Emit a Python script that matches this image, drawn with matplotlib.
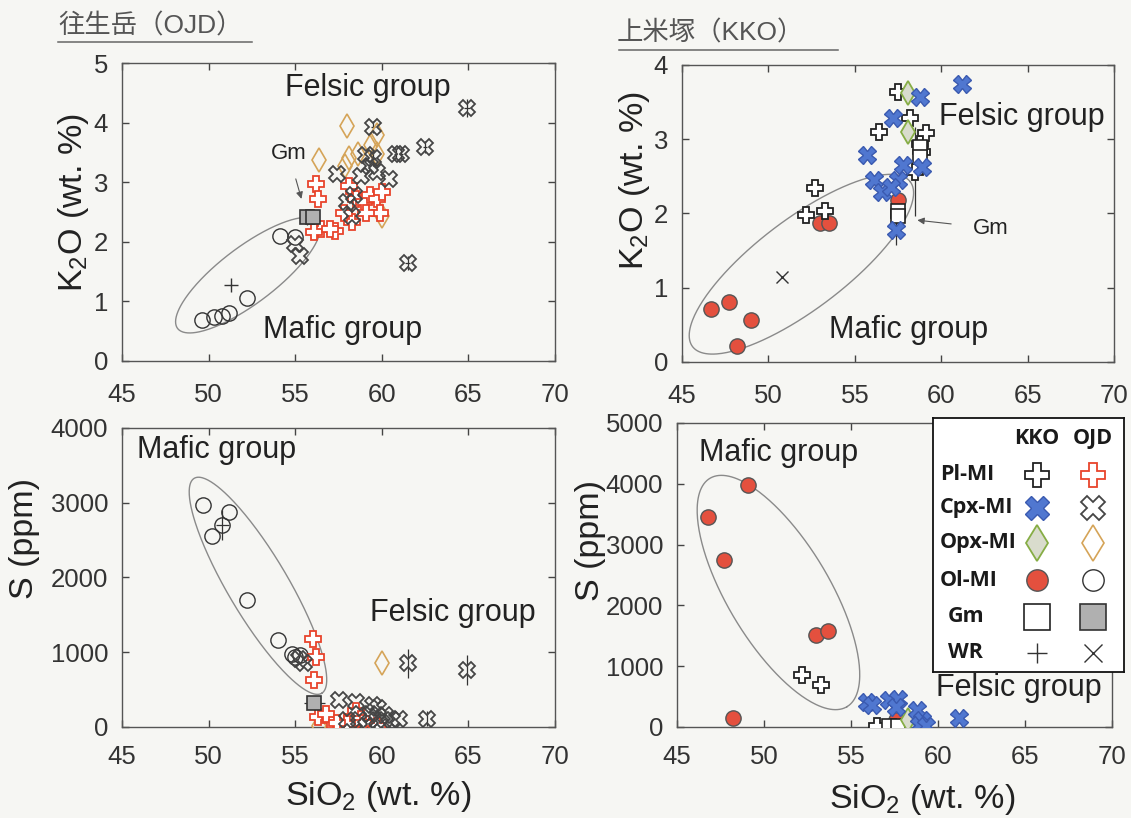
import numpy as np
import matplotlib
matplotlib.use('Agg')
import matplotlib.pyplot as plt
from matplotlib.lines import Line2D

plt.rcParams['font.family'] = ['Liberation Sans', 'DejaVu Sans']
plt.rcParams['mathtext.fontset'] = 'custom'
plt.rcParams['mathtext.rm'] = 'Liberation Sans'
plt.rcParams['mathtext.it'] = 'Liberation Sans:italic'
plt.rcParams['mathtext.bf'] = 'Liberation Sans:bold'

# ---------------- OJD : K2O vs SiO2 ----------------
ojd_k_ol_x = [49.6, 50.3, 50.8, 51.2, 52.2, 54.1, 55.0]
ojd_k_ol_y = [0.69, 0.74, 0.76, 0.80, 1.06, 2.10, 2.08]
ojd_k_wr_x = [51.3]
ojd_k_wr_y = [1.28]
ojd_k_cpx_x = [64.9, 62.5, 61.1, 60.8, 59.5, 59.5, 59.3, 59.7, 60.4, 57.4, 58.0, 58.3, 58.4, 61.5, 55.0, 55.3, 58.8, 59.1]
ojd_k_cpx_y = [4.24, 3.59, 3.48, 3.48, 3.93, 3.40, 3.28, 3.17, 3.06, 3.14, 2.66, 2.44, 2.78, 1.65, 1.96, 1.76, 3.11, 3.45]
ojd_k_cpx_err = [0.15, 0.10, 0.08, 0.08, 0.10, 0.12, 0, 0, 0, 0, 0, 0, 0, 0.12, 0, 0, 0, 0]
ojd_k_pl_x = [56.2, 56.3, 56.5, 57.3, 56.1, 58.1, 58.5, 59.0, 59.3, 59.7, 59.9, 58.3, 60.0, 59.1, 57.8, 57.0]
ojd_k_pl_y = [2.97, 2.72, 2.21, 2.18, 2.16, 2.94, 2.72, 2.66, 2.78, 2.72, 2.49, 2.33, 2.83, 2.49, 2.49, 2.21]
ojd_k_opx_x = [58.0, 56.4, 59.7, 59.4, 58.1, 58.6, 57.9, 59.7, 60.0]
ojd_k_opx_y = [3.95, 3.37, 3.79, 3.62, 3.40, 3.48, 3.28, 3.48, 2.44]
ojd_k_gm_x = [55.7, 56.0]
ojd_k_gm_y = [2.41, 2.41]

# ---------------- KKO : K2O vs SiO2 ----------------
kko_k_ol_x = [46.7, 47.7, 49.0, 48.2, 53.0, 53.5, 57.5]
kko_k_ol_y = [0.72, 0.81, 0.56, 0.22, 1.87, 1.87, 2.18]
kko_k_pl_x = [52.7, 52.2, 53.3, 56.4, 57.5, 58.2, 58.8, 59.1, 58.9, 58.5]
kko_k_pl_y = [2.34, 1.98, 2.04, 3.10, 3.64, 3.28, 2.94, 3.08, 2.83, 2.56]
kko_k_pl_err = [0, 0, 0, 0, 0, 0, 0, 0, 0, 0.6]
kko_k_cpx_x = [61.2, 58.8, 57.2, 55.7, 56.1, 56.6, 57.5, 57.8, 58.9, 57.4, 57.1]
kko_k_cpx_y = [3.75, 3.57, 3.28, 2.79, 2.45, 2.29, 2.45, 2.65, 2.63, 1.78, 2.36]
kko_k_cpx_err = [0, 0, 0, 0, 0, 0, 0, 0, 0, 0.2, 0]
kko_k_opx_x = [58.1, 58.1]
kko_k_opx_y = [3.62, 3.10]
kko_k_gm_x = [57.5, 57.5, 58.8, 58.8]
kko_k_gm_y = [2.04, 1.96, 2.90, 2.76]
kko_k_wr_x = [50.8]
kko_k_wr_y = [1.15]

# ---------------- OJD : S vs SiO2 ----------------
ojd_s_ol_x = [49.7, 50.2, 51.2, 50.8, 52.2, 54.0, 55.0, 54.8, 55.3]
ojd_s_ol_y = [2970, 2560, 2880, 2700, 1700, 1160, 940, 980, 960]
ojd_s_ol_err = [0, 0, 0, 200, 0, 0, 0, 0, 0]
ojd_s_pl_x = [56.0, 56.2, 56.1, 56.3, 57.0, 56.8, 58.3, 58.5, 59.7, 58.0, 58.8, 57.4, 58.9]
ojd_s_pl_y = [1180, 940, 630, 135, 90, 180, 135, 220, 20, 45, 110, 60, 60]
ojd_s_cpx_x = [61.5, 64.9, 62.6, 57.5, 58.5, 59.5, 59.3, 59.7, 60.6, 61.0, 60.2, 58.0, 59.1, 55.5, 55.2, 59.8, 60.0, 58.7]
ojd_s_cpx_y = [850, 760, 110, 360, 335, 290, 180, 90, 90, 110, 155, 90, 20, 850, 915, 250, 60, 100]
ojd_s_cpx_err = [200, 200, 100, 0, 0, 0, 0, 0, 0, 0, 0, 0, 0, 0, 0, 0, 0, 0]
ojd_s_opx_x = [60.0, 56.4]
ojd_s_opx_y = [850, 10]
ojd_s_gm_x = [56.1]
ojd_s_gm_y = [315]

# ---------------- KKO : S vs SiO2 ----------------
kko_s_ol_x = [46.8, 49.1, 47.7, 53.0, 53.7, 48.2, 57.6]
kko_s_ol_y = [3460, 3980, 2750, 1510, 1580, 140, 110]
kko_s_pl_x = [52.2, 53.3, 56.5]
kko_s_pl_y = [850, 690, 10]
kko_s_gm_x = [57.2, 57.7]
kko_s_gm_y = [15, 15]
kko_s_cpx_x = [55.9, 56.2, 57.2, 57.7, 57.6, 58.8, 59.1, 58.9, 59.3, 61.2]
kko_s_cpx_y = [410, 360, 440, 465, 330, 275, 110, 30, 20, 140]
kko_s_opx_x = [58.3]
kko_s_opx_y = [110]

# group ellipses: centre, semi-axis vector a, semi-axis vector b (data units)
ell_ojd_k = ((52.27, 1.44), (4.06, 0.894), (0.98, -0.375))
ell_kko_k = ((51.91, 1.317), (6.30, 1.11), (1.57, -0.483))
ell_ojd_s = ((52.85, 1889), (3.68, -1438), (1.49, 205))
ell_kko_s = ((50.83, 2212), (3.94, -1878), (2.51, 431))

legend_rows = ['Pl-MI', 'Cpx-MI', 'Opx-MI', 'Ol-MI', 'Gm', 'WR']

ST = {
    'kko_pl': dict(marker='P', ms=12, mfc='white', mec='#222222', mew=1.3),
    'ojd_pl': dict(marker='P', ms=12, mfc='white', mec='#e8442c', mew=1.3),
    'kko_cpx': dict(marker='X', ms=12.5, mfc='#5077d0', mec='#3a5ab0', mew=1),
    'ojd_cpx': dict(marker='X', ms=12, mfc='none', mec='#454545', mew=1.3),
    'kko_opx': dict(marker='d', ms=12.5, mfc='#d9dccd', mec='#86ad45', mew=1.3),
    'ojd_opx': dict(marker='d', ms=12.5, mfc='none', mec='#d5a458', mew=1.2),
    'kko_ol': dict(marker='o', ms=11, mfc='#e4503e', mec='#555555', mew=1),
    'ojd_ol': dict(marker='o', ms=11, mfc='none', mec='#333333', mew=1),
    'kko_gm': dict(marker='s', ms=10, mfc='white', mec='#222222', mew=1.2),
    'ojd_gm': dict(marker='s', ms=10, mfc='#b0b0b0', mec='#333333', mew=1.2),
    'wr_plus': dict(marker='+', ms=10, mec='#333333', mew=1),
    'wr_x': dict(marker='x', ms=9, mec='#333333', mew=1),
}
legend_styles = [('kko_pl', 'ojd_pl'), ('kko_cpx', 'ojd_cpx'), ('kko_opx', 'ojd_opx'),
                 ('kko_ol', 'ojd_ol'), ('kko_gm', 'ojd_gm'), ('wr_plus', 'wr_x')]

TXT = '#222222'


def pts(ax, x, y, key, xerr=None, yerr=None):
    if xerr is not None or yerr is not None:
        ax.errorbar(x, y, xerr=xerr, yerr=yerr, fmt='none', ecolor='#333333',
                    elinewidth=0.9, zorder=2)
    ax.plot(x, y, ls='none', zorder=3, **ST[key])


def ellipse(ax, e):
    (cx, cy), (ax_, ay), (bx, by) = e
    t = np.linspace(0, 2 * np.pi, 300)
    ax.plot(cx + ax_ * np.cos(t) + bx * np.sin(t), cy + ay * np.cos(t) + by * np.sin(t),
            color='#8a8a8a', lw=1, zorder=1)


def setup(ax, ymax, ystep, xpad):
    ax.set_xlim(45, 70)
    ax.set_ylim(0, ymax)
    ax.set_xticks(range(45, 71, 5))
    ax.set_yticks(np.arange(0, ymax + ystep / 2, ystep))
    ax.tick_params(direction='in', top=True, right=True, length=5, width=1,
                   color='#444444', labelsize=18.5, labelcolor='#333333')
    ax.tick_params(axis='x', pad=xpad)
    ax.tick_params(axis='y', pad=10)
    for s in ax.spines.values():
        s.set_color('#555555')
        s.set_linewidth(1)
    ax.set_facecolor('none')


fig = plt.figure(figsize=(11.31, 8.18), dpi=100, facecolor='#f6f6f3')

ax1 = fig.add_axes([0.10787, 0.55868, 0.38285, 0.36430])
ax2 = fig.add_axes([0.60301, 0.55746, 0.38196, 0.36308])
ax3 = fig.add_axes([0.10787, 0.11125, 0.38285, 0.36553])
ax4 = fig.add_axes([0.59859, 0.11125, 0.38462, 0.37164])

# --- top left: OJD K2O
setup(ax1, 5, 1, 16)
ellipse(ax1, ell_ojd_k)
pts(ax1, ojd_k_ol_x, ojd_k_ol_y, 'ojd_ol')
pts(ax1, ojd_k_wr_x, ojd_k_wr_y, 'wr_plus')
pts(ax1, ojd_k_opx_x, ojd_k_opx_y, 'ojd_opx')
pts(ax1, ojd_k_pl_x, ojd_k_pl_y, 'ojd_pl')
pts(ax1, ojd_k_cpx_x, ojd_k_cpx_y, 'ojd_cpx', xerr=[e * 1.2 for e in ojd_k_cpx_err], yerr=ojd_k_cpx_err)
pts(ax1, ojd_k_gm_x, ojd_k_gm_y, 'ojd_gm', xerr=0.4, yerr=0.12)
ax1.annotate('Gm', xy=(55.36, 2.72), xytext=(54.62, 3.48), fontsize=16, color=TXT,
             ha='center', va='center',
             arrowprops=dict(arrowstyle='-|>', color='#555555', lw=0.8, shrinkA=9,
                             shrinkB=0, mutation_scale=10))
ax1.text(0.568, 0.916, 'Felsic group', transform=ax1.transAxes, fontsize=22, color=TXT,
         ha='center', va='center')
ax1.text(0.509, 0.104, 'Mafic group', transform=ax1.transAxes, fontsize=22, color=TXT,
         ha='center', va='center')
ax1.set_ylabel(r'K$_2$O (wt. %)', fontsize=24.5, color=TXT, va='center')
ax1.yaxis.set_label_coords(-0.113, 0.533)

# --- top right: KKO K2O
setup(ax2, 4, 1, 16)
ellipse(ax2, ell_kko_k)
pts(ax2, kko_k_ol_x, kko_k_ol_y, 'kko_ol')
pts(ax2, kko_k_wr_x, kko_k_wr_y, 'wr_x')
pts(ax2, kko_k_pl_x, kko_k_pl_y, 'kko_pl', yerr=kko_k_pl_err)
pts(ax2, kko_k_gm_x, kko_k_gm_y, 'kko_gm', xerr=0.3, yerr=0.1)
pts(ax2, kko_k_opx_x, kko_k_opx_y, 'kko_opx')
pts(ax2, kko_k_cpx_x, kko_k_cpx_y, 'kko_cpx', yerr=kko_k_cpx_err)
ax2.annotate('Gm', xy=(58.62, 1.91), xytext=(62.89, 1.80), fontsize=16, color=TXT,
             ha='center', va='center',
             arrowprops=dict(arrowstyle='-|>', color='#555555', lw=0.8, shrinkA=14,
                             shrinkB=0, mutation_scale=10))
ax2.text(0.786, 0.825, 'Felsic group', transform=ax2.transAxes, fontsize=22, color=TXT,
         ha='center', va='center')
ax2.text(0.525, 0.108, 'Mafic group', transform=ax2.transAxes, fontsize=22, color=TXT,
         ha='center', va='center')
ax2.set_ylabel(r'K$_2$O (wt. %)', fontsize=24.5, color=TXT, va='center')
ax2.yaxis.set_label_coords(-0.109, 0.61)

# --- bottom left: OJD S
setup(ax3, 4000, 1000, 13)
ellipse(ax3, ell_ojd_s)
pts(ax3, ojd_s_ol_x, ojd_s_ol_y, 'ojd_ol', xerr=[e / 500 for e in ojd_s_ol_err], yerr=ojd_s_ol_err)
pts(ax3, ojd_s_opx_x, ojd_s_opx_y, 'ojd_opx')
pts(ax3, ojd_s_pl_x, ojd_s_pl_y, 'ojd_pl')
pts(ax3, ojd_s_cpx_x, ojd_s_cpx_y, 'ojd_cpx', yerr=ojd_s_cpx_err)
pts(ax3, ojd_s_gm_x, ojd_s_gm_y, 'ojd_gm', xerr=0.6, yerr=80)
ax3.text(0.218, 0.926, 'Mafic group', transform=ax3.transAxes, fontsize=22, color=TXT,
         ha='center', va='center')
ax3.text(0.764, 0.381, 'Felsic group', transform=ax3.transAxes, fontsize=22, color=TXT,
         ha='center', va='center')
ax3.set_ylabel('S (ppm)', fontsize=24.5, color=TXT, va='center')
ax3.yaxis.set_label_coords(-0.226, 0.632)
ax3.set_xlabel(r'SiO$_2$ (wt. %)', fontsize=24.5, color=TXT, va='center')
ax3.xaxis.set_label_coords(0.592, -0.234)

# --- bottom right: KKO S
setup(ax4, 5000, 1000, 13)
ellipse(ax4, ell_kko_s)
pts(ax4, kko_s_ol_x, kko_s_ol_y, 'kko_ol')
pts(ax4, kko_s_pl_x, kko_s_pl_y, 'kko_pl')
pts(ax4, kko_s_gm_x, kko_s_gm_y, 'kko_gm', xerr=0.3, yerr=60)
pts(ax4, kko_s_opx_x, kko_s_opx_y, 'kko_opx')
pts(ax4, kko_s_cpx_x, kko_s_cpx_y, 'kko_cpx')
ax4.text(0.233, 0.901, 'Mafic group', transform=ax4.transAxes, fontsize=22, color=TXT,
         ha='center', va='center')
ax4.text(0.786, 0.128, 'Felsic group', transform=ax4.transAxes, fontsize=22, color=TXT,
         ha='center', va='center')
ax4.set_ylabel('S (ppm)', fontsize=24.5, color=TXT, va='center')
ax4.yaxis.set_label_coords(-0.2, 0.615)
ax4.set_xlabel(r'SiO$_2$ (wt. %)', fontsize=24.5, color=TXT, va='center')
ax4.xaxis.set_label_coords(0.563, -0.24)

# --- legend box
lg = fig.add_axes([0.8249, 0.1785, 0.1689, 0.3105])
lg.set_xlim(0, 1)
lg.set_ylim(0, 1)
lg.set_xticks([])
lg.set_yticks([])
lg.set_facecolor('white')
for s in lg.spines.values():
    s.set_color('#111111')
    s.set_linewidth(1.3)
lfont = dict(family=['Open Sans', 'DejaVu Sans'], fontweight='bold', fontsize=15.5, color='#1a1a1a')
lg.text(0.545, 0.921, 'KKO', ha='center', va='center', **lfont)
lg.text(0.838, 0.921, 'OJD', ha='center', va='center', **lfont)
row_y = [0.776, 0.646, 0.508, 0.362, 0.217, 0.075]
for name, (k1, k2), yy in zip(legend_rows, legend_styles, row_y):
    xx = 0.08 if name in ('Gm', 'WR') else 0.037
    lg.text(xx, yy, name, ha='left', va='center', **lfont)
    for key, cx in ((k1, 0.545), (k2, 0.838)):
        st = dict(ST[key])
        if key.endswith('gm'):
            st['ms'] = st['ms'] * 1.9
        elif key.endswith('opx'):
            st['ms'] = st['ms'] * 1.5
        else:
            st['ms'] = st['ms'] * 1.4
        lg.plot([cx], [yy], ls='none', **st)

# --- site titles
tfont = dict(family=['Liberation Sans', 'Noto Sans CJK JP'], fontsize=19, color='#555555')
fig.text(0.0513, 0.968, '往生岳（OJD）', ha='left', va='center', **tfont)
fig.text(0.5455, 0.9597, '上米塚（KKO）', ha='left', va='center', **tfont)
fig.add_artist(Line2D([0.0513, 0.2228], [0.9487, 0.9487], transform=fig.transFigure,
                      color='#666666', lw=1.1))
fig.add_artist(Line2D([0.547, 0.741], [0.9389, 0.9389], transform=fig.transFigure,
                      color='#666666', lw=1.1))

fig.savefig('out.png', dpi=100, facecolor=fig.get_facecolor())
